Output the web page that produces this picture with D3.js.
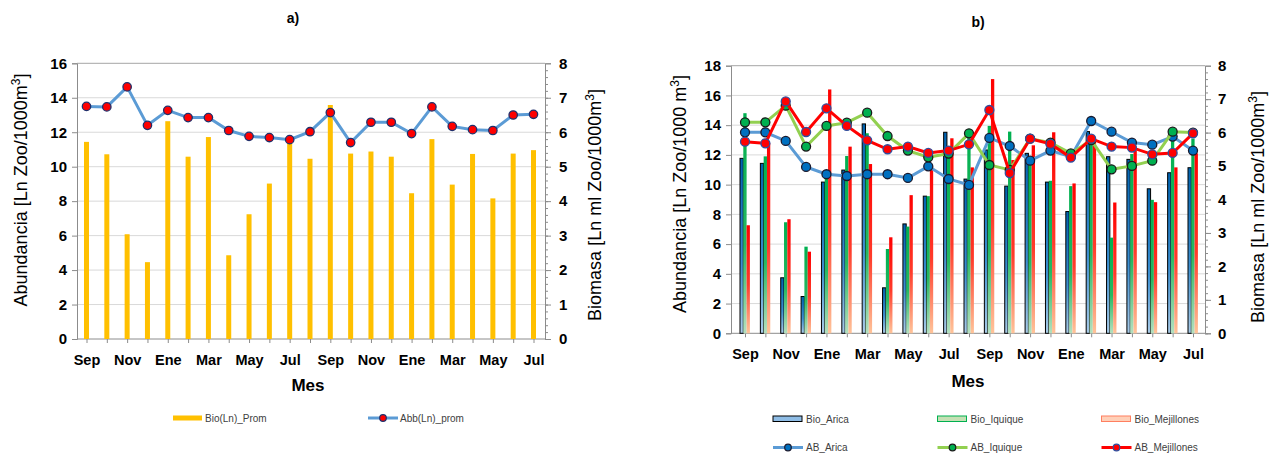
<!DOCTYPE html>
<html>
<head>
<meta charset="utf-8">
<script src="https://cdn.jsdelivr.net/npm/d3@7"></script>
<style>
  body { margin: 0; background: #fff; }
  text { font-family: "Liberation Sans", Arial, sans-serif; }
</style>
</head>
<body>
<div id="chart"></div>
<script>
// Datos
const months = ["Sep", "Oct", "Nov", "Dic", "Ene", "Feb", "Mar", "Abr", "May", "Jun", "Jul", "Ago",
  "Sep", "Oct", "Nov", "Dic", "Ene", "Feb", "Mar", "Abr", "May", "Jun", "Jul"];

// Panel a)
const bioProm = [5.72, 5.36, 3.04, 2.23, 6.32, 5.29, 5.86, 2.43, 3.62, 4.51, 5.75, 5.23,
  6.79, 5.38, 5.44, 5.29, 4.23, 5.8, 4.48, 5.37, 4.08, 5.38, 5.48];
const abbProm = [13.5, 13.47, 14.63, 12.4, 13.27, 12.85, 12.85, 12.1, 11.76, 11.69, 11.57, 12.03,
  13.14, 11.4, 12.58, 12.58, 11.92, 13.47, 12.34, 12.15, 12.1, 13.0, 13.04];

// Panel b) biomasa (eje derecho)
const bioArica = [5.23, 5.08, 1.66, 1.1, 4.52, 4.88, 6.26, 1.36, 3.27, 4.1, 6.01, 4.61,
  5.48, 4.4, 5.38, 4.52, 3.64, 6.03, 5.28, 5.2, 4.32, 4.8, 4.95];
const bioIquique = [6.58, 5.29, 3.32, 2.59, 4.71, 5.3, 5.98, 2.52, 3.19, 4.1, 5.38, 5.98,
  6.2, 6.03, 5.28, 4.56, 4.4, 5.82, 2.86, 5.36, 3.99, 5.88, 5.82];
const bioMejillones = [3.23, 5.69, 3.41, 2.44, 7.29, 5.58, 5.06, 2.87, 4.13, 4.98, 5.83, 4.96,
  7.6, 5.18, 5.62, 6.01, 4.48, 5.78, 3.91, 5.47, 3.92, 4.96, 5.38];

// Panel b) abundancia (eje izquierdo)
const abArica = [13.52, 13.52, 12.94, 11.19, 10.7, 10.58, 10.7, 10.7, 10.45, 11.23, 10.38, 9.98,
  13.14, 12.6, 11.61, 12.29, 11.88, 14.28, 13.56, 12.83, 12.69, 13.23, 12.29];
const abIquique = [14.19, 14.19, 15.31, 12.56, 13.95, 14.17, 14.84, 13.27, 12.29, 11.84, 12.09, 13.45,
  11.32, 10.99, 13.1, 12.83, 12.1, 13.0, 11.03, 11.26, 11.61, 13.56, 13.5];
const abMejillones = [12.89, 12.78, 15.6, 13.54, 15.13, 13.95, 12.98, 12.38, 12.56, 12.13, 12.29, 12.71,
  15.02, 10.78, 13.09, 12.74, 11.82, 13.09, 12.56, 12.49, 12.04, 12.13, 13.45];

const width = 1277, height = 456;
const axisColor = "#8c8c8c", gridColor = "#d9d9d9";

const svg = d3.select("#chart").append("svg")
  .attr("width", width).attr("height", height)
  .style("background", "white");

// Degradados de las barras
const defs = svg.append("defs");
const addGrad = (id, stops) => {
  const g = defs.append("linearGradient").attr("id", id)
    .attr("x1", 0).attr("y1", 0).attr("x2", 0).attr("y2", 1);
  stops.forEach(([o, c]) => g.append("stop").attr("offset", o).attr("stop-color", c));
};
addGrad("gArica", [[0, "#0062b0"], [0.6, "#3d8fd1"], [1, "#a9cbe8"]]);
addGrad("gIquique", [[0, "#00b050"], [0.6, "#27b862"], [1, "#b5e0c0"]]);
addGrad("gMej", [[0, "#ff0000"], [0.55, "#ff3b2a"], [1, "#ffc49a"]]);

// Ejes, grilla y marco de un panel
const drawFrame = (p) => {
  const g = svg.append("g");
  const x = d3.scalePoint().domain(d3.range(months.length)).range(p.xRange);
  const yL = d3.scaleLinear().domain([0, p.leftMax]).range(p.yRange);
  const yR = d3.scaleLinear().domain([0, 8]).range(p.yRange);
  const leftTicks = d3.range(0, p.leftMax + 1, 2);

  g.append("g").selectAll("line").data(leftTicks.slice(1)).join("line")
    .attr("x1", p.axL).attr("x2", p.axR)
    .attr("y1", (d) => yL(d)).attr("y2", (d) => yL(d))
    .attr("stroke", (d) => (d === p.leftMax ? "#a6a6a6" : gridColor))
    .attr("stroke-width", 1);

  const left = g.append("g").attr("transform", `translate(${p.axL},0)`)
    .call(d3.axisLeft(yL).tickValues(leftTicks).tickSize(5).tickPadding(5));
  const right = g.append("g").attr("transform", `translate(${p.axR},0)`)
    .call(d3.axisRight(yR).tickValues(d3.range(0, 9)).tickSize(6).tickPadding(p.rPad));
  g.append("g").attr("transform", `translate(${p.axR},0)`)
    .call(d3.axisRight(yR).tickValues(d3.range(0, 40).map((i) => i * 0.2)).tickSize(3).tickFormat(""))
    .call((s) => s.select(".domain").remove());
  const bottom = g.append("g").attr("transform", `translate(0,${p.yRange[0]})`)
    .call(d3.axisBottom(x).tickSize(4).tickPadding(p.bPad)
      .tickFormat((i) => (i % 2 === 0 ? months[i] : "")));
  bottom.select(".domain").remove();
  g.append("line")
    .attr("x1", p.axL).attr("x2", p.axR)
    .attr("y1", p.yRange[0]).attr("y2", p.yRange[0])
    .attr("stroke", axisColor);

  g.selectAll(".domain").attr("stroke", axisColor);
  g.selectAll(".tick line").attr("stroke", axisColor);
  [left, right].forEach((a) =>
    a.selectAll("text").attr("font-size", 15).attr("font-weight", "bold").attr("fill", "#000")
      .style("font-family", '"Liberation Sans", Arial, sans-serif'));
  bottom.selectAll("text").attr("font-size", 14.5).attr("font-weight", "bold").attr("fill", "#000")
    .style("font-family", '"Liberation Sans", Arial, sans-serif');

  // Títulos
  const rotTitle = (tx, ty, main) => {
    const t = svg.append("text").attr("transform", `translate(${tx},${ty}) rotate(-90)`)
      .attr("text-anchor", "middle").attr("font-size", 18).attr("fill", "#000");
    t.append("tspan").text(main);
    t.append("tspan").attr("dy", -7).attr("font-size", 12).text("3");
    t.append("tspan").attr("dy", 7).text("]");
  };
  rotTitle(p.tL[0], p.tL[1], p.titleL);
  rotTitle(p.tR[0], p.tR[1], "Biomasa  [Ln ml Zoo/1000m");
  svg.append("text").attr("x", p.mes[0]).attr("y", p.mes[1]).attr("text-anchor", "middle")
    .attr("font-size", 17).attr("font-weight", "bold").text("Mes");
  svg.append("text").attr("x", p.lab[0]).attr("y", p.lab[1]).attr("text-anchor", "middle")
    .attr("font-size", 14).attr("font-weight", "bold").text(p.label);

  return { x, yL, yR };
};

// ---------- Panel a ----------
const a = drawFrame({
  xRange: [86.5, 533.5], axL: 77, axR: 545, yRange: [339, 63.3], leftMax: 16,
  rPad: 8, bPad: 12,
  titleL: "Abundancia  [Ln Zoo/1000m", tL: [27, 190], tR: [601, 205],
  mes: [308, 391], lab: [293, 23], label: "a)"
});

svg.append("g").selectAll("rect").data(bioProm).join("rect")
  .attr("x", (d, i) => a.x(i) - 2.5).attr("width", 5)
  .attr("y", (d) => a.yR(d)).attr("height", (d) => a.yR(0) - a.yR(d))
  .attr("fill", "#ffc000");

const lineA = d3.line().x((d, i) => a.x(i)).y((d) => a.yL(d));
svg.append("path").datum(abbProm).attr("d", lineA)
  .attr("fill", "none").attr("stroke", "#5b9bd5").attr("stroke-width", 3);
svg.append("g").selectAll("circle").data(abbProm).join("circle")
  .attr("cx", (d, i) => a.x(i)).attr("cy", (d) => a.yL(d)).attr("r", 4.2)
  .attr("fill", "#ff0000").attr("stroke", "#1f2f6b").attr("stroke-width", 1.3);

// Leyenda a
const legA = svg.append("g").attr("font-size", 10).attr("fill", "#404040");
legA.append("rect").attr("x", 173).attr("y", 415.5).attr("width", 29).attr("height", 5).attr("fill", "#ffc000");
legA.append("text").attr("x", 205).attr("y", 422).text("Bio(Ln)_Prom");
legA.append("line").attr("x1", 368).attr("x2", 398).attr("y1", 418).attr("y2", 418)
  .attr("stroke", "#5b9bd5").attr("stroke-width", 3);
legA.append("circle").attr("cx", 383).attr("cy", 418).attr("r", 3.3)
  .attr("fill", "#ff0000").attr("stroke", "#1f2f6b").attr("stroke-width", 1.2);
legA.append("text").attr("x", 400).attr("y", 422).text("Abb(Ln)_prom");

// ---------- Panel b ----------
const b = drawFrame({
  xRange: [745, 1193], axL: 731, axR: 1205, yRange: [333.3, 65.7], leftMax: 18,
  rPad: 7, bPad: 11,
  titleL: "Abundancia  [Ln Zoo/1000 m", tL: [686, 194], tR: [1264, 207],
  mes: [968, 387], lab: [978, 27], label: "b)"
});

const bw = 3.3;
const bioSeries = [
  { data: bioArica, off: -5, fill: "url(#gArica)", stroke: "#000", sw: 1 },
  { data: bioIquique, off: -1.7, fill: "url(#gIquique)", stroke: "none", sw: 0 },
  { data: bioMejillones, off: 1.6, fill: "url(#gMej)", stroke: "none", sw: 0 }
];
bioSeries.forEach((s) => {
  svg.append("g").selectAll("rect").data(s.data).join("rect")
    .attr("x", (d, i) => b.x(i) + s.off).attr("width", bw)
    .attr("y", (d) => b.yR(d)).attr("height", (d) => b.yR(0) - b.yR(d))
    .attr("fill", s.fill).attr("stroke", s.stroke).attr("stroke-width", s.sw);
});

const lineB = d3.line().x((d, i) => b.x(i)).y((d) => b.yL(d));
const abSeries = [
  { data: abArica, line: "#5b9bd5", fill: "#0070c0", stroke: "#1a1a2e" },
  { data: abIquique, line: "#92d050", fill: "#00b050", stroke: "#1a1a1a" },
  { data: abMejillones, line: "#ff0000", fill: "#ff0000", stroke: "#2f4f9f" }
];
abSeries.forEach((s) => {
  svg.append("path").datum(s.data).attr("d", lineB)
    .attr("fill", "none").attr("stroke", s.line).attr("stroke-width", 3);
  svg.append("g").selectAll("circle").data(s.data).join("circle")
    .attr("cx", (d, i) => b.x(i)).attr("cy", (d) => b.yL(d)).attr("r", 4.5)
    .attr("fill", s.fill).attr("stroke", s.stroke).attr("stroke-width", 1.3);
});

// Leyenda b
const legB = svg.append("g").attr("font-size", 10).attr("fill", "#404040");
const legX = [773, 937.5, 1101.5];
const bioLeg = [
  { name: "Bio_Arica", fill: "#8fbde6", stroke: "#000" },
  { name: "Bio_Iquique", fill: "#c5e0b4", stroke: "#00b050" },
  { name: "Bio_Mejillones", fill: "#ffd0b8", stroke: "#ff7f60" }
];
bioLeg.forEach((d, i) => {
  legB.append("rect").attr("x", legX[i]).attr("y", 416).attr("width", 29).attr("height", 5.5)
    .attr("fill", d.fill).attr("stroke", d.stroke).attr("stroke-width", 1);
  legB.append("text").attr("x", legX[i] + 33).attr("y", 423).text(d.name);
});
["AB_Arica", "AB_Iquique", "AB_Mejillones"].forEach((name, i) => {
  const s = abSeries[i];
  legB.append("line").attr("x1", legX[i]).attr("x2", legX[i] + 30).attr("y1", 447.5).attr("y2", 447.5)
    .attr("stroke", s.line).attr("stroke-width", 3);
  legB.append("circle").attr("cx", legX[i] + 15).attr("cy", 447.5).attr("r", 3.3)
    .attr("fill", s.fill).attr("stroke", s.stroke).attr("stroke-width", 1.2);
  legB.append("text").attr("x", legX[i] + 33).attr("y", 451).text(name);
});
</script>
</body>
</html>
